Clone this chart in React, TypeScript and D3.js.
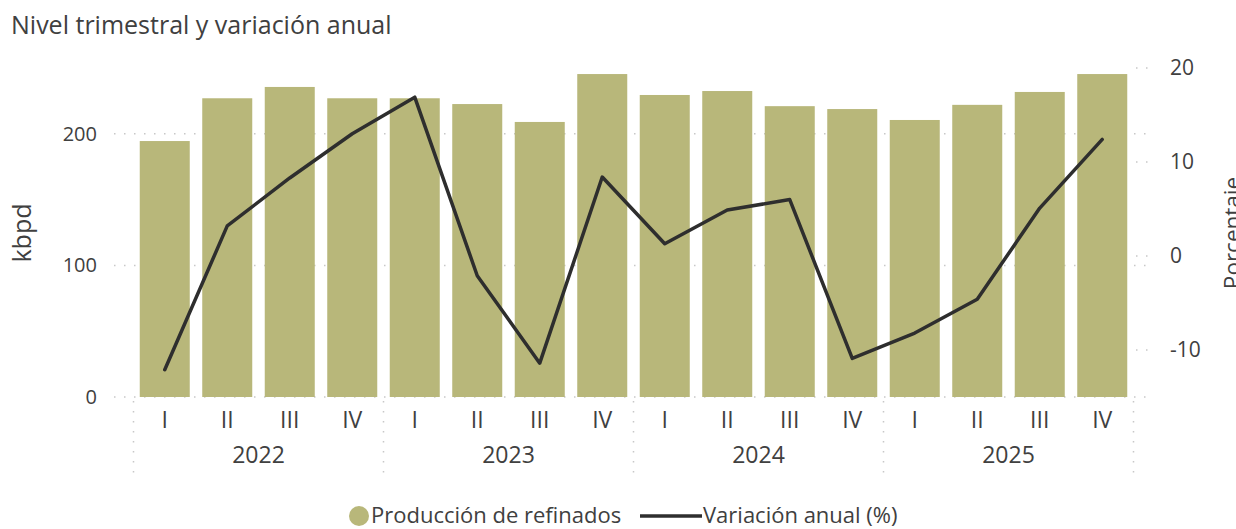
import React, { useEffect, useRef } from 'react';
import * as d3 from 'd3';

// datos
const years = ['2022', '2023', '2024', '2025'];
const quarters = ['I', 'II', 'III', 'IV'];
const produccion = [194.5, 227, 235.6, 227, 227, 222.6, 209, 245.4, 229.5, 232.5, 221, 218.8, 210.5, 222, 231.8, 245.4];
const variacion = [-12.1, 3.2, 8.3, 13.0, 16.9, -2.1, -11.4, 8.4, 1.3, 4.9, 6.0, -10.9, -8.2, -4.6, 5.1, 12.4];
const leftTicks = [0, 100, 200];
const rightTicks = [-10, 0, 10, 20];

const W = 1236;
const H = 529;
const FONT = "'Segoe UI', 'Open Sans', sans-serif";
const TEXT = '#404040';
const GRID = '#c8c8c8';

export default function App() {
  const ref = useRef<SVGSVGElement>(null);

  useEffect(() => {
    const svg = d3.select(ref.current);
    svg.selectAll('*').remove();

    const left = 133.5, right = 1133.5, top = 68, bottom = 397;
    const labels = years.flatMap((y) => quarters.map((q) => y + '-' + q));

    const x = d3.scaleBand<string>().domain(labels).range([left, right]).paddingInner(0.2).paddingOuter(0.1);
    const yL = d3.scaleLinear().domain([0, 250]).range([bottom, top]);
    const yR = d3.scaleLinear().domain([-15, 20]).range([bottom, top]);

    svg.append('text')
      .attr('x', 11).attr('y', 34)
      .attr('font-size', 25).attr('fill', TEXT)
      .text('Nivel trimestral y variación anual');

    // grid izquierda
    svg.append('g').selectAll('line').data(leftTicks).join('line')
      .attr('x1', 114).attr('x2', 1148)
      .attr('y1', (d) => yL(d)).attr('y2', (d) => yL(d))
      .attr('stroke', GRID).attr('stroke-width', 1.5).attr('stroke-dasharray', '1.5,8.5');

    // trocitos de grid derecha
    svg.append('g').selectAll('line').data(rightTicks).join('line')
      .attr('x1', 1136).attr('x2', 1150)
      .attr('y1', (d) => yR(d)).attr('y2', (d) => yR(d))
      .attr('stroke', GRID).attr('stroke-width', 1.5).attr('stroke-dasharray', '1.5,8.5');

    // separadores de anio
    const seps = d3.range(years.length + 1).map((i) => left + i * (right - left) / years.length);
    svg.append('g').selectAll('line').data(seps).join('line')
      .attr('x1', (d) => d).attr('x2', (d) => d)
      .attr('y1', bottom + 4).attr('y2', 476)
      .attr('stroke', GRID).attr('stroke-width', 1.5).attr('stroke-dasharray', '1.5,8.5');

    svg.append('g').selectAll('rect').data(produccion).join('rect')
      .attr('x', (_, i) => x(labels[i]) as number)
      .attr('width', x.bandwidth())
      .attr('y', (d) => yL(d))
      .attr('height', (d) => yL(0) - yL(d))
      .attr('fill', '#b8b77a');

    const line = d3.line<number>()
      .x((_, i) => (x(labels[i]) as number) + x.bandwidth() / 2)
      .y((d) => yR(d));

    svg.append('path')
      .attr('d', line(variacion))
      .attr('fill', 'none')
      .attr('stroke', '#2e2e2e')
      .attr('stroke-width', 3.5)
      .attr('stroke-linejoin', 'round')
      .attr('stroke-linecap', 'round');

    // ejes
    svg.append('g').selectAll('text').data(leftTicks).join('text')
      .attr('x', 97).attr('y', (d) => yL(d)).attr('dy', '0.35em')
      .attr('text-anchor', 'end').attr('font-size', 20).attr('fill', TEXT)
      .text((d) => d);

    svg.append('g').selectAll('text').data(rightTicks).join('text')
      .attr('x', 1170).attr('y', (d) => yR(d)).attr('dy', '0.35em')
      .attr('font-size', 21).attr('fill', TEXT)
      .text((d) => d);

    svg.append('g').selectAll('text').data(labels).join('text')
      .attr('x', (d) => (x(d) as number) + x.bandwidth() / 2).attr('y', 428)
      .attr('text-anchor', 'middle').attr('font-size', 23).attr('fill', TEXT)
      .text((d) => d.split('-')[1]);

    svg.append('g').selectAll('text').data(years).join('text')
      .attr('x', (_, i) => (seps[i] + seps[i + 1]) / 2).attr('y', 463)
      .attr('text-anchor', 'middle').attr('font-size', 23).attr('fill', TEXT)
      .text((d) => d);

    svg.append('text')
      .attr('transform', 'translate(31,233) rotate(-90)')
      .attr('text-anchor', 'middle').attr('font-size', 25).attr('fill', TEXT)
      .text('kbpd');

    svg.append('text')
      .attr('transform', 'translate(1240,233) rotate(-90)')
      .attr('text-anchor', 'middle').attr('font-size', 22.5).attr('fill', TEXT)
      .text('Porcentaje');

    // leyenda
    const lg = svg.append('g');
    lg.append('circle').attr('cx', 359).attr('cy', 516).attr('r', 10).attr('fill', '#b8b77a');
    lg.append('text').attr('x', 371).attr('y', 523).attr('font-size', 22).attr('fill', TEXT)
      .text('Producción de refinados');
    lg.append('line').attr('x1', 640).attr('x2', 702).attr('y1', 516).attr('y2', 516)
      .attr('stroke', '#2e2e2e').attr('stroke-width', 3.5);
    lg.append('text').attr('x', 703).attr('y', 523).attr('font-size', 22).attr('fill', TEXT)
      .text('Variación anual (%)');
  }, []);

  return (
    <svg ref={ref} width={W} height={H} style={{ position: 'absolute', left: 0, top: 0, fontFamily: FONT }} />
  );
}
